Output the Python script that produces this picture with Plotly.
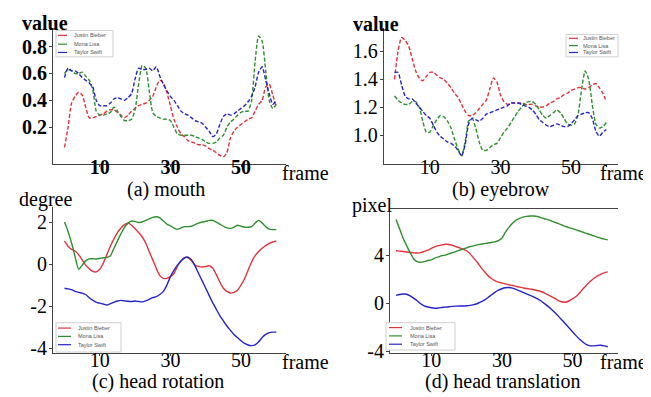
import plotly.graph_objects as go

frames = list(range(0, 61))
names = ["Justin Bieber", "Mona Lisa", "Taylor Swift"]

mouth_jb = [0.05,0.2,0.38,0.43,0.46,0.44,0.35,0.27,0.27,0.28,0.29,0.30,0.32,0.33,0.33,0.31,0.29,0.27,0.29,0.32,
            0.34,0.36,0.37,0.38,0.40,0.43,0.50,0.55,0.53,0.46,0.36,0.26,0.2,0.15,0.13,0.10,0.09,0.08,0.07,0.07,
            0.06,0.04,0.03,0.01,-0.01,-0.02,0.01,0.12,0.17,0.20,0.22,0.24,0.26,0.27,0.32,0.37,0.40,0.50,0.52,0.44,0.35]
mouth_ml = [0.6,0.63,0.62,0.6,0.6,0.61,0.58,0.55,0.48,0.32,0.29,0.29,0.3,0.31,0.35,0.32,0.28,0.25,0.25,0.26,
            0.33,0.52,0.66,0.64,0.47,0.31,0.28,0.27,0.26,0.26,0.25,0.2,0.15,0.14,0.14,0.14,0.14,0.13,0.12,0.11,
            0.09,0.08,0.08,0.09,0.12,0.14,0.2,0.24,0.26,0.29,0.31,0.32,0.32,0.4,0.69,0.88,0.84,0.62,0.4,0.34,0.37]
mouth_ts = [0.57,0.64,0.62,0.62,0.60,0.57,0.55,0.53,0.50,0.40,0.36,0.36,0.36,0.38,0.41,0.42,0.41,0.40,0.42,0.45,
            0.56,0.64,0.63,0.63,0.64,0.62,0.65,0.58,0.52,0.47,0.43,0.40,0.36,0.32,0.30,0.29,0.27,0.25,0.24,0.23,
            0.20,0.17,0.13,0.15,0.22,0.28,0.30,0.29,0.30,0.32,0.34,0.36,0.39,0.43,0.50,0.61,0.65,0.55,0.45,0.37,0.40]

brow_jb = [1.40,1.60,1.70,1.68,1.64,1.55,1.46,1.41,1.39,1.42,1.45,1.45,1.43,1.41,1.40,1.37,1.34,1.30,1.27,1.22,
           1.17,1.14,1.14,1.16,1.19,1.22,1.25,1.33,1.41,1.38,1.29,1.24,1.22,1.23,1.23,1.23,1.23,1.22,1.22,1.22,
           1.21,1.20,1.20,1.21,1.23,1.24,1.26,1.27,1.29,1.30,1.32,1.33,1.34,1.34,1.33,1.34,1.36,1.37,1.34,1.30,1.24]
brow_ml = [1.28,1.25,1.23,1.22,1.22,1.24,1.24,1.20,1.10,1.02,1.02,1.07,1.11,1.14,1.13,1.10,1.05,0.97,0.90,0.85,
           0.95,1.10,1.12,1.05,0.95,0.89,0.89,0.91,0.93,0.94,0.98,1.02,1.05,1.09,1.13,1.17,1.20,1.23,1.24,1.24,
           1.22,1.18,1.14,1.12,1.14,1.16,1.18,1.16,1.12,1.08,1.07,1.08,1.15,1.33,1.46,1.40,1.22,1.08,1.05,1.06,1.09]
brow_ts = [1.45,1.45,1.36,1.28,1.26,1.26,1.23,1.20,1.17,1.14,1.12,1.07,1.02,0.99,0.97,0.95,0.94,0.92,0.89,0.85,
           0.93,1.08,1.12,1.11,1.10,1.12,1.15,1.16,1.17,1.18,1.19,1.20,1.21,1.23,1.23,1.23,1.22,1.21,1.20,1.18,
           1.15,1.11,1.09,1.07,1.06,1.07,1.08,1.07,1.06,1.06,1.08,1.11,1.14,1.15,1.16,1.16,1.12,1.03,0.99,1.02,1.04]

rot_jb = [1.1,0.85,0.7,0.62,0.45,0.2,-0.05,-0.22,-0.35,-0.37,-0.25,0.05,0.45,0.85,1.2,1.5,1.72,1.88,1.95,1.85,
          1.68,1.5,1.3,1.0,0.6,0.2,-0.2,-0.55,-0.68,-0.68,-0.6,-0.45,-0.1,0.15,0.3,0.3,0.15,-0.05,-0.12,-0.14,
          -0.12,-0.08,-0.2,-0.5,-0.85,-1.15,-1.3,-1.38,-1.35,-1.25,-1.0,-0.7,-0.3,0.1,0.4,0.6,0.75,0.88,0.98,1.05,1.1]
rot_ml = [2.0,1.55,1.0,0.35,-0.25,-0.05,0.15,0.25,0.25,0.24,0.27,0.30,0.32,0.40,0.75,1.10,1.45,1.75,1.95,2.05,
          2.03,1.98,2.0,2.08,2.15,2.22,2.25,2.2,2.05,1.9,1.82,1.72,1.65,1.72,1.78,1.78,1.8,1.88,1.95,2.0,
          2.03,2.08,2.08,2.0,1.9,1.8,1.72,1.7,1.75,1.85,1.8,1.75,1.75,1.78,1.95,2.08,1.95,1.78,1.66,1.64,1.64]
rot_ts = [-1.15,-1.18,-1.22,-1.3,-1.35,-1.38,-1.45,-1.6,-1.72,-1.82,-1.86,-1.9,-1.95,-1.88,-1.82,-1.76,-1.73,-1.75,-1.77,-1.78,
          -1.76,-1.78,-1.8,-1.75,-1.68,-1.6,-1.55,-1.45,-1.3,-1.0,-0.6,-0.3,-0.05,0.15,0.3,0.33,0.2,-0.1,-0.45,-0.8,
          -1.15,-1.5,-1.85,-2.15,-2.45,-2.7,-2.95,-3.15,-3.35,-3.5,-3.65,-3.78,-3.85,-3.88,-3.85,-3.7,-3.5,-3.35,-3.26,-3.24,-3.24]

tr_jb = [4.36,4.33,4.3,4.26,4.22,4.18,4.17,4.2,4.3,4.42,4.55,4.68,4.78,4.85,4.9,4.88,4.8,4.7,4.6,4.5,
         4.36,4.1,3.75,3.4,3.0,2.65,2.3,2.05,1.88,1.75,1.67,1.6,1.53,1.47,1.4,1.33,1.27,1.22,1.17,1.12,
         1.05,0.97,0.85,0.7,0.55,0.4,0.22,0.12,0.08,0.18,0.35,0.55,0.85,1.2,1.5,1.8,2.05,2.25,2.4,2.52,2.6]
tr_ml = [6.95,6.2,5.4,4.8,4.2,3.7,3.45,3.4,3.45,3.55,3.6,3.75,3.85,3.95,4.0,4.1,4.2,4.3,4.4,4.5,
         4.6,4.7,4.77,4.85,4.9,4.95,5.0,5.05,5.1,5.2,5.4,5.9,6.3,6.65,6.9,7.05,7.15,7.22,7.25,7.25,
         7.22,7.12,7.02,6.95,6.85,6.72,6.62,6.5,6.38,6.28,6.2,6.1,6.0,5.9,5.8,5.7,5.6,5.5,5.4,5.33,5.26]
tr_ts = [0.65,0.72,0.76,0.74,0.6,0.42,0.2,-0.05,-0.22,-0.32,-0.38,-0.42,-0.4,-0.36,-0.33,-0.3,-0.27,-0.25,-0.24,-0.24,
         -0.22,-0.18,-0.12,-0.05,0.1,0.25,0.45,0.68,0.9,1.08,1.2,1.28,1.3,1.25,1.15,1.03,0.9,0.78,0.65,0.52,
         0.38,0.2,-0.02,-0.25,-0.5,-0.78,-1.08,-1.4,-1.72,-2.05,-2.38,-2.7,-3.0,-3.25,-3.45,-3.55,-3.55,-3.52,-3.5,-3.55,-3.63]

x_ticks = [10, 30, 50]
x_labels = ["10", "30", "50"]
y_ticks_a = [0.2, 0.4, 0.6, 0.8]
y_labels_a = ["0.2", "0.4", "0.6", "0.8"]
y_ticks_b = [1.0, 1.2, 1.4, 1.6]
y_labels_b = ["1.0", "1.2", "1.4", "1.6"]
y_ticks_c = [-4, -2, 0, 2]
y_labels_c = ["-4", "-2", "0", "2"]
y_ticks_d = [-4, 0, 4]
y_labels_d = ["-4", "0", "4"]

colors = ["#e2333c", "#2f8f2f", "#2424c8"]
W, H = 651, 397
SERIF = "Liberation Serif"

fig = go.Figure()

panels = [
    ("", [mouth_jb, mouth_ml, mouth_ts], "4px,2px"),
    ("2", [brow_jb, brow_ml, brow_ts], "4px,2px"),
    ("3", [rot_jb, rot_ml, rot_ts], "solid"),
    ("4", [tr_jb, tr_ml, tr_ts], "solid"),
]
for suf, series, dash in panels:
    for name, ys, col in zip(names, series, colors):
        fig.add_trace(go.Scatter(
            x=frames, y=ys, mode="lines", name=name,
            line=dict(color=col, width=1.4, dash=dash, shape="spline", smoothing=0.6),
            xaxis="x" + suf, yaxis="y" + suf, showlegend=False,
        ))

def px2x(p):
    return p / W

def py2y(p):
    return 1 - p / H

def tfont(bold):
    return dict(family=SERIF, size=20, color="black", weight="bold" if bold else "normal")

def xax(dom, rng, anchor, standoff, bold=False, tickvals=None, ticktext=None, mirror=False):
    return dict(
        domain=[px2x(dom[0]), px2x(dom[1])], range=rng, anchor=anchor,
        tickmode="array", tickvals=tickvals or x_ticks, ticktext=ticktext or x_labels,
        showgrid=False, zeroline=False, showline=True, linecolor="#444", linewidth=1,
        ticks="outside", ticklen=2, tickcolor="#444", mirror=mirror,
        ticklabelstandoff=standoff, tickfont=tfont(bold),
    )

def yax(dom, rng, anchor, tickvals, ticktext, bold=False):
    return dict(
        domain=[py2y(dom[1]), py2y(dom[0])], range=rng, anchor=anchor,
        tickmode="array", tickvals=tickvals, ticktext=ticktext,
        showgrid=False, zeroline=False, showline=True, linecolor="#444", linewidth=1,
        ticks="outside", ticklen=3, tickcolor="#444",
        ticklabelstandoff=-2, tickfont=tfont(bold),
    )

fig.update_layout(
    width=W, height=H, margin=dict(l=0, r=0, t=0, b=0),
    paper_bgcolor="white", plot_bgcolor="white",
    font=dict(family=SERIF),
    showlegend=False,
    xaxis=xax((45, 278), [-3.26, 62.75], "y", -17, bold=True),
    yaxis=yax((20, 160), [-0.0764, 0.942], "x", y_ticks_a, y_labels_a, bold=True),
    xaxis2=xax((375.7, 610), [-3.06, 63.3], "y2", -17, tickvals=[10, 30, 50, 60], ticktext=["10", "30", "50", ""]),
    yaxis2=yax((20, 160), [0.789, 1.772], "x2", y_ticks_b, y_labels_b),
    xaxis3=xax((45, 278), [-3.26, 62.75], "y3", -13),
    yaxis3=yax((204, 353), [-4.233, 2.698], "x3", y_ticks_c, y_labels_c),
    xaxis4=xax((382, 610), [-1.70, 62.9], "y4", -13, mirror=True),
    yaxis4=yax((206, 353), [-4.146, 7.805], "x4", y_ticks_d, y_labels_d),
)

def ann(text, x, y, bold=False, size=20):
    fig.add_annotation(text=text, x=px2x(x), y=py2y(y), xref="paper", yref="paper",
                       showarrow=False, xanchor="center", yanchor="middle",
                       font=dict(family=SERIF, size=size, color="black", weight="bold" if bold else "normal"))

ann("value", 36.5, 15, bold=True)
ann("value", 367.5, 16, bold=True)
ann("degree", 37.5, 196)
ann("pixel", 364, 202)
ann("frame", 297.5, 169)
ann("frame", 615, 169)
ann("frame", 297, 362)
ann("frame", 615, 362)
ann("(a) mouth", 157.5, 186)
ann("(b) eyebrow", 492.5, 186)
ann("(c) head rotation", 150, 382)
ann("(d) head translation", 495, 382)

# small legend boxes (drawn in page coordinates)
legend_boxes = [
    # box x0, x1, y0, y1, line x0, x1, text x, row ys, dash
    (48, 105, 23, 50, 50, 61, 64, [28, 37, 45.5], "dash"),
    (558, 610, 27, 50, 561, 571, 573, [31, 38.5, 45.5], "dash"),
    (48, 113, 322, 352, 50, 63, 68, [327.5, 336, 344.5], "solid"),
    (378, 447, 322, 350, 381, 394, 400, [327, 335.5, 344], "solid"),
]
for bx0, bx1, by0, by1, lx0, lx1, tx, rows, dsh in legend_boxes:
    fig.add_shape(type="rect", xref="paper", yref="paper",
                  x0=px2x(bx0), x1=px2x(bx1), y0=py2y(by1), y1=py2y(by0),
                  line=dict(color="#d0d0d0", width=1), fillcolor="white", layer="above")
    for name, col, ry in zip(names, colors, rows):
        fig.add_shape(type="line", xref="paper", yref="paper",
                      x0=px2x(lx0), x1=px2x(lx1), y0=py2y(ry), y1=py2y(ry),
                      line=dict(color=col, width=1.2, dash=dsh), layer="above")
        fig.add_annotation(text=name, x=px2x(tx), y=py2y(ry), xref="paper", yref="paper",
                           showarrow=False, xanchor="left", yanchor="middle",
                           font=dict(family="Liberation Sans", size=5.5, color="#555"))

fig.write_html("out.html")
